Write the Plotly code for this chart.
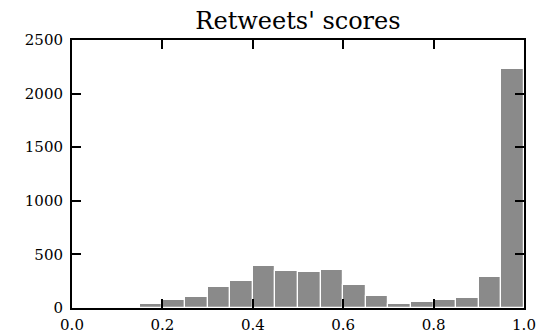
import plotly.graph_objects as go

bin_left = [0.15, 0.20, 0.25, 0.30, 0.35, 0.40, 0.45, 0.50, 0.55, 0.60,
            0.65, 0.70, 0.75, 0.80, 0.85, 0.90, 0.95]
counts = [33, 75, 103, 192, 248, 395, 348, 338, 350, 218,
          109, 37, 53, 75, 90, 287, 2226]
bin_width = 0.05
x_ticks = [0.0, 0.2, 0.4, 0.6, 0.8, 1.0]
y_ticks = [0, 500, 1000, 1500, 2000, 2500]

fig = go.Figure()
fig.add_trace(go.Bar(
    x=[b + bin_width / 2 for b in bin_left],
    y=counts,
    width=[bin_width] * len(bin_left),
    marker=dict(color="#8a8a8a", line=dict(color="white", width=1.2)),
))

font = "DejaVu Serif"
# page body has an 8px margin, so the figure is sized 8px smaller
fig.update_layout(
    width=536, height=326,
    margin=dict(l=64, r=20, t=32, b=26, autoexpand=False),
    paper_bgcolor="white", plot_bgcolor="white",
    showlegend=False,
    bargap=0,
    font=dict(family=font, size=15, color="black"),
    title=dict(text="Retweets' scores", x=0.5, xanchor="center",
               xref="paper",
               y=1.0, yanchor="top", pad=dict(t=4),
               font=dict(family=font, size=24, color="black")),
)
fig.update_xaxes(
    range=[0, 1], tickvals=x_ticks, ticktext=[f"{v:.1f}" for v in x_ticks],
    ticks="inside", ticklen=9, tickwidth=1.5, tickcolor="black",
    showline=True, linewidth=2, linecolor="black", mirror="ticks",
    showgrid=False, zeroline=False, automargin=False,
    ticklabelstandoff=2,
    tickfont=dict(family=font, size=15, color="black"),
)
fig.update_yaxes(
    range=[0, 2500], tickvals=y_ticks, ticktext=[str(v) for v in y_ticks],
    ticks="inside", ticklen=9, tickwidth=1.5, tickcolor="black",
    showline=True, linewidth=2, linecolor="black", mirror="ticks",
    showgrid=False, zeroline=False, automargin=False,
    ticklabelstandoff=4,
    tickfont=dict(family=font, size=15, color="black"),
)

fig.write_html("out.html")
